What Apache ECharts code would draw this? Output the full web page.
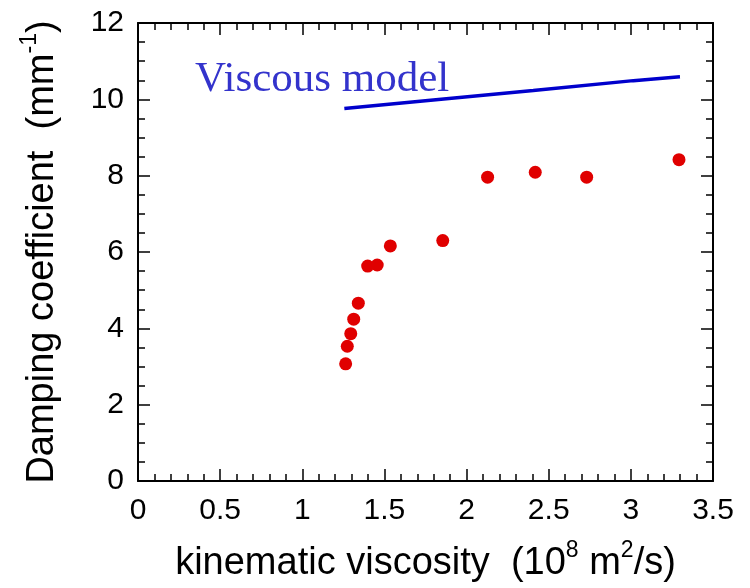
<!DOCTYPE html>
<html>
<head>
    <meta charset="utf-8" />
    <title>Damping coefficient</title>
    <script src="https://cdn.jsdelivr.net/npm/echarts@6/dist/echarts.min.js"></script>
    <style>
        html, body { margin: 0; padding: 0; background: #fff; }
        #main { width: 750px; height: 588px; }
    </style>
</head>
<body>
    <div id="main"></div>
    <script type="text/javascript">
        // measured points
        var viscosity = [1.264, 1.274, 1.295, 1.313, 1.341, 1.398, 1.456, 1.536, 1.855, 2.128, 2.418, 2.731, 3.293];
        var damping = [3.07, 3.53, 3.86, 4.24, 4.66, 5.63, 5.66, 6.16, 6.30, 7.96, 8.09, 7.96, 8.42];
        // viscous model curve
        var modelX = [1.256, 1.797, 2.406, 3.015, 3.299];
        var modelY = [9.76, 9.98, 10.23, 10.49, 10.59];

        var font = '"Liberation Sans", Arial, sans-serif';
        var myChart = echarts.init(document.getElementById('main'));

        // main text and raised superscript
        var nameRich = {
            t: { fontSize: 38, lineHeight: 38, fontFamily: font, color: '#000', verticalAlign: 'bottom' },
            sup: { fontSize: 23, lineHeight: 23, fontFamily: font, color: '#000', verticalAlign: 'bottom', padding: [0, 0, 21, 0] }
        };

        function axisBase(extra) {
            var a = {
                type: 'value',
                axisLine: { show: true, onZero: false, lineStyle: { color: '#000', width: 2 } },
                axisTick: { show: true, inside: true, length: 12, lineStyle: { color: '#000', width: 1.5 } },
                splitLine: { show: false },
                axisLabel: { color: '#000', fontSize: 30, fontFamily: font }
            };
            return Object.assign(a, extra);
        }

        var option = {
            animation: false,
            grid: { left: 138, right: 37, top: 23, bottom: 107 },
            xAxis: [
                axisBase({
                    min: 0, max: 3.5, interval: 0.5,
                    minorTick: { show: true, splitNumber: 5, length: 7, lineStyle: { color: '#000', width: 1.5 } },
                    axisLabel: { color: '#000', fontSize: 30, fontFamily: font, margin: 15 },
                    name: '{t|kinematic viscosity  (10}{sup|8}{t| m}{sup|2}{t|/s)}',
                    nameLocation: 'middle',
                    nameGap: 64,
                    nameTextStyle: { fontSize: 38, fontFamily: font, color: '#000', rich: nameRich }
                }),
                axisBase({
                    position: 'top',
                    min: 0, max: 3.5, interval: 0.5,
                    minorTick: { show: true, splitNumber: 5, length: 7, lineStyle: { color: '#000', width: 1.5 } },
                    axisLabel: { show: false }
                })
            ],
            yAxis: [
                axisBase({
                    min: 0, max: 12, interval: 2,
                    minorTick: { show: true, splitNumber: 4, length: 7, lineStyle: { color: '#000', width: 1.5 } },
                    axisLabel: { color: '#000', fontSize: 30, fontFamily: font, margin: 14 },
                    name: '{t|Damping coefficient  (mm}{sup|-1}{t|)}',
                    nameLocation: 'middle',
                    nameRotate: 90,
                    nameGap: 76,
                    nameTextStyle: { fontSize: 38, fontFamily: font, color: '#000', rich: nameRich }
                }),
                axisBase({
                    position: 'right',
                    min: 0, max: 12, interval: 2,
                    minorTick: { show: true, splitNumber: 4, length: 7, lineStyle: { color: '#000', width: 1.5 } },
                    axisLabel: { show: false }
                })
            ],
            graphic: [{
                type: 'text',
                left: 195,
                top: 58,
                style: {
                    text: 'Viscous model',
                    font: '43px "Liberation Serif", "Times New Roman", serif',
                    fill: '#3333cc'
                }
            }],
            series: [
                {
                    name: 'Viscous model',
                    type: 'line',
                    showSymbol: false,
                    lineStyle: { color: '#0000cc', width: 3.5 },
                    data: modelX.map(function (x, i) { return [x, modelY[i]]; })
                },
                {
                    name: 'Measured',
                    type: 'scatter',
                    symbol: 'circle',
                    symbolSize: 13,
                    itemStyle: { color: '#e00000', opacity: 1 },
                    data: viscosity.map(function (x, i) { return [x, damping[i]]; })
                }
            ]
        };
        myChart.setOption(option);
    </script>
</body>
</html>
